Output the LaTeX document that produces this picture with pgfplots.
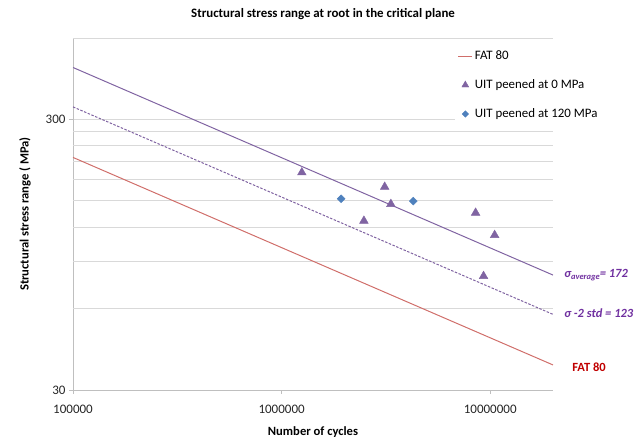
\documentclass[border=0pt]{standalone}
\usepackage{pgfplots}
\pgfplotsset{compat=1.18}
\usepackage{fontspec}
\setmainfont{Carlito}
\definecolor{fatred}{HTML}{D06E6A}
\definecolor{purp}{HTML}{8064A2}
\definecolor{blu}{HTML}{4F81BD}
\definecolor{labpurp}{HTML}{7030A0}
\definecolor{labred}{HTML}{C00000}
\definecolor{gridc}{HTML}{D9D9D9}
\definecolor{axc}{HTML}{BFBFBF}
\begin{document}
\begin{tikzpicture}
\useasboundingbox (-73pt,-51pt) rectangle (565pt,390pt);
\begin{axis}[
  at={(0pt,0pt)}, anchor=south west,
  scale only axis, width=480pt, height=352pt,
  xmode=log, ymode=log,
  xmin=1e5, xmax=2e7, ymin=30, ymax=600,
  xtick={1e5,1e6,1e7}, xticklabels={100000,1000000,10000000},
  ytick={30,300}, yticklabels={30,300},
  extra y ticks={60,90,120,150,180,210,240,270,600},
  extra y tick labels={},
  extra y tick style={major tick length=0pt, grid=major},
  xminorticks=false, yminorticks=false,
  ymajorgrids, grid style={gridc, line width=0.8pt},
  axis x line*=bottom, axis y line*=left,
  axis line style={axc, line width=0.8pt},
  tick style={axc, line width=0.8pt},
  tick align=outside, major tick length=4pt,
  tick label style={font=\fontsize{13}{15}\selectfont, text=black!85},
  xticklabel style={yshift=-8pt},
  xlabel={\bfseries Number of cycles},
  ylabel={\bfseries Structural stress range ( MPa)},
  label style={font=\fontsize{12.6}{14}\selectfont},
  xlabel style={at={(axis description cs:0.5,-0.119)}, anchor=center},
  ylabel style={at={(axis description cs:-0.1,0.5)}, anchor=center},
  title={\bfseries Structural stress range at root in the critical plane},
  every axis title shift=0pt,
  title style={at={(axis description cs:0.521,1.068)}, anchor=center, font=\fontsize{12.9}{15}\selectfont},
  legend style={at={(rel axis cs:0.795,0.975)}, anchor=north west, draw=none, fill=white,
    font=\fontsize{12.9}{15}\selectfont, row sep=14.5pt, cells={anchor=west}},
  clip=false,
]
\addplot[fatred, line width=1pt, legend image code/.code={\draw[fatred, line width=1pt] (0pt,0pt) -- (14pt,0pt);}] coordinates {(1e5,217.1) (2e7,37.13)};
\addlegendentry{FAT 80}
\addplot[only marks, mark=triangle*, mark size=5pt, mark options={fill=purp, draw=purp},
  legend image code/.code={\draw[purp, fill=purp] plot[mark=triangle*, mark size=4pt] coordinates {(7pt,0pt)};}] coordinates {
 (1.25e6,191) (3.12e6,169) (3.34e6,146) (2.48e6,126.6) (8.51e6,135.5) (1.05e7,112.1) (9.29e6,79.1)};
\addlegendentry{UIT peened at 0 MPa}
\addplot[only marks, mark=square*, mark size=2.8pt, mark options={rotate=45, fill=blu, draw=blu},
  legend image code/.code={\draw[blu, fill=blu] plot[mark=square*, mark size=2.3pt, mark options={rotate=45}] coordinates {(7pt,0pt)};}] coordinates {
 (1.93e6,152.7) (4.28e6,149.7)};
\addlegendentry{UIT peened at 120 MPa}
\addplot[purp, line width=1pt, forget plot] coordinates {(1e5,466.8) (2e7,79.8)};
\addplot[purp, line width=1pt, dash pattern=on 2.5pt off 1.5pt, forget plot] coordinates {(1e5,333.8) (2e7,57.1)};
\node[anchor=west, text=labpurp, font=\fontsize{12.5}{14}\selectfont\bfseries\itshape, inner sep=0pt] at (rel axis cs:1.023,0.327) {σ\raisebox{-0.35ex}{\fontsize{8.5}{9}\selectfont average}= 172};
\node[anchor=west, text=labpurp, font=\fontsize{12.5}{14}\selectfont\bfseries\itshape, inner sep=0pt] at (rel axis cs:1.023,0.219) {σ -2 std = 123};
\node[anchor=west, text=labred, font=\fontsize{12.5}{14}\selectfont\bfseries, inner sep=0pt] at (rel axis cs:1.04,0.065) {FAT 80};
\end{axis}
\end{tikzpicture}
\end{document}
